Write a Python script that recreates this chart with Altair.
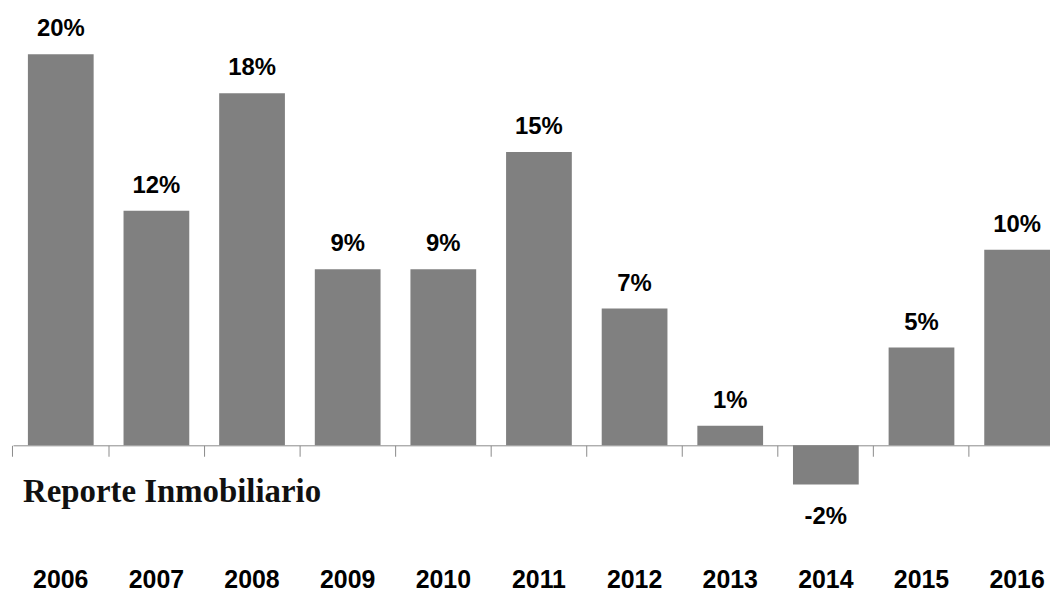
import altair as alt
import pandas as pd

years = ["2006", "2007", "2008", "2009", "2010", "2011", "2012", "2013", "2014", "2015", "2016"]
values = [20, 12, 18, 9, 9, 15, 7, 1, -2, 5, 10]
labels = [f"{v}%" for v in values]

watermark_text = ["Reporte Inmobiliario"]
watermark_year = ["2006"]
watermark_value = [-2.9]

df = pd.DataFrame({"year": years, "value": values, "label": labels})
wm = pd.DataFrame({"year": watermark_year, "value": watermark_value, "text": watermark_text})

x = alt.X(
    "year:N",
    sort=years,
    scale=alt.Scale(paddingInner=0.3125, paddingOuter=0.078, align=1),
    axis=alt.Axis(
        title=None,
        labelAngle=0,
        orient="bottom",
        offset=-114,
        domainColor="#8a8a8a",
        tickColor="#8a8a8a",
        tickSize=11,
        bandPosition=-0.2273,
        labelFont="Liberation Sans",
        labelFontWeight="bold",
        labelFontSize=25,
        labelColor="black",
        labelPadding=112,
    ),
)
y = alt.Y("value:Q", scale=alt.Scale(domain=[-5.8, 22], nice=False, zero=False), axis=None)

bars = alt.Chart(df).mark_bar(color="#808080").encode(x=x, y=y, y2=alt.datum(0))

pos_text = (
    alt.Chart(df)
    .transform_filter("datum.value >= 0")
    .mark_text(font="Liberation Sans", fontWeight="bold", fontSize=24, color="black",
               baseline="alphabetic", dy=-18)
    .encode(x=alt.X("year:N", sort=years), y="value:Q", text="label:N")
)
neg_text = (
    alt.Chart(df)
    .transform_filter("datum.value < 0")
    .mark_text(font="Liberation Sans", fontWeight="bold", fontSize=24, color="black",
               baseline="alphabetic", dy=40)
    .encode(x=alt.X("year:N", sort=years), y="value:Q", text="label:N")
)
watermark = (
    alt.Chart(wm)
    .mark_text(font="Liberation Serif", fontWeight="bold", fontSize=33, color="#111",
               align="left", baseline="alphabetic", dx=-38)
    .encode(x=alt.X("year:N", sort=years), y="value:Q", text="text:N")
)

chart = (
    alt.layer(bars, pos_text, neg_text, watermark)
    .properties(
        width=1042,
        height=546.3,
        autosize=alt.AutoSizeParams(type="none"),
        padding={"left": 5, "top": 5.7, "right": 0, "bottom": 31},
        background="white",
    )
    .configure_view(stroke=None)
)

chart.save("out.html", embed_options={"renderer": "svg", "actions": False})
